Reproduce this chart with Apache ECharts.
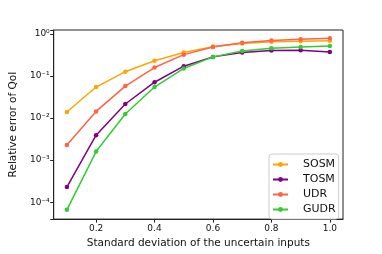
<!DOCTYPE html>
<html><head><meta charset="utf-8">
<script src="https://cdn.jsdelivr.net/npm/echarts@6/dist/echarts.min.js"></script>
<style>html,body{margin:0;padding:0;background:#fff}#c{width:382px;height:254px}</style>
</head><body><div id="c"></div>
<script>
const stdDev = [0.1, 0.2, 0.3, 0.4, 0.5, 0.6, 0.7, 0.8, 0.9, 1.0];
const sosm = [0.0139, 0.0544, 0.126, 0.229, 0.361, 0.496, 0.59, 0.645, 0.668, 0.68];
const tosm = [0.000229, 0.00392, 0.0215, 0.0708, 0.170, 0.283, 0.361, 0.402, 0.405, 0.368];
const udr = [0.00228, 0.01435, 0.0574, 0.158, 0.32, 0.487, 0.612, 0.692, 0.742, 0.782];
const gudr = [0.000066, 0.0016, 0.0125, 0.0544, 0.150, 0.283, 0.388, 0.454, 0.487, 0.514];
const seriesNames = ['SOSM', 'TOSM', 'UDR', 'GUDR'];
const seriesColors = ['#FFA500', '#800080', '#FF6347', '#32CD32'];
const seriesData = [sosm, tosm, udr, gudr];

const sup = {'0':'⁰','1':'¹','2':'²','3':'³','4':'⁴','5':'⁵','6':'⁶','7':'⁷','8':'⁸','9':'⁹','-':'⁻'};
function fmtLog(v) {
  const e = Math.log10(v);
  const r = Math.round(e);
  if (Math.abs(e - r) > 1e-6) return '';
  return '10' + String(r).split('').map(c => sup[c]).join('');
}

const chart = echarts.init(document.getElementById('c'), null, {renderer: 'canvas'});
const font = 'DejaVu Sans';
chart.setOption({
  animation: false,
  textStyle: {fontFamily: font},
  grid: {left: 48, right: 39, top: 30, bottom: 28, show: true, borderColor: '#222', borderWidth: 1, backgroundColor: 'transparent'},
  legend: {
    data: seriesNames,
    orient: 'vertical',
    left: 269, top: 154,
    itemWidth: 15, itemHeight: 6, itemGap: 2,
    padding: [4, 3, 3, 3],
    borderColor: '#ccc', borderWidth: 1, borderRadius: 3,
    backgroundColor: '#fff',
    textStyle: {fontFamily: font, fontSize: 11, color: '#111', lineHeight: 13, padding: [0, 0, 0, 10]}
  },
  xAxis: {
    type: 'value', min: 0.055, max: 1.045,
    name: 'Standard deviation of the uncertain inputs',
    nameLocation: 'middle', nameGap: 18,
    nameTextStyle: {fontFamily: font, fontSize: 10.5, color: '#111'},
    axisLine: {lineStyle: {color: '#222', width: 1}},
    axisTick: {show: true, inside: false, length: 3.5, lineStyle: {color: '#222'}},
    axisLabel: {fontFamily: font, fontSize: 9, color: '#111', margin: 5, showMinLabel: false, showMaxLabel: false,
      formatter: v => (Math.abs(v*5 - Math.round(v*5)) < 1e-6 ? v.toFixed(1) : '')},
    splitLine: {show: false}
  },
  yAxis: {
    type: 'log', logBase: 10,
    min: Math.pow(10, -4.4), max: Math.pow(10, 0.09),
    name: 'Relative error of QoI',
    nameLocation: 'middle', nameGap: 32,
    nameTextStyle: {fontFamily: font, fontSize: 10.5, color: '#111'},
    axisLine: {show: true, lineStyle: {color: '#222', width: 1}},
    axisTick: {show: true, inside: false, length: 3.5, lineStyle: {color: '#222'}},
    axisLabel: {fontFamily: font, fontSize: 9, color: '#111', margin: 4, formatter: fmtLog},
    splitLine: {show: false}
  },
  series: seriesNames.map((n, i) => ({
    name: n, type: 'line',
    data: stdDev.map((x, j) => [x, seriesData[i][j]]),
    color: seriesColors[i],
    lineStyle: {width: 1.5},
    symbol: 'circle', symbolSize: 4.5,
    itemStyle: {color: seriesColors[i]}
  }))
});
</script></body></html>
